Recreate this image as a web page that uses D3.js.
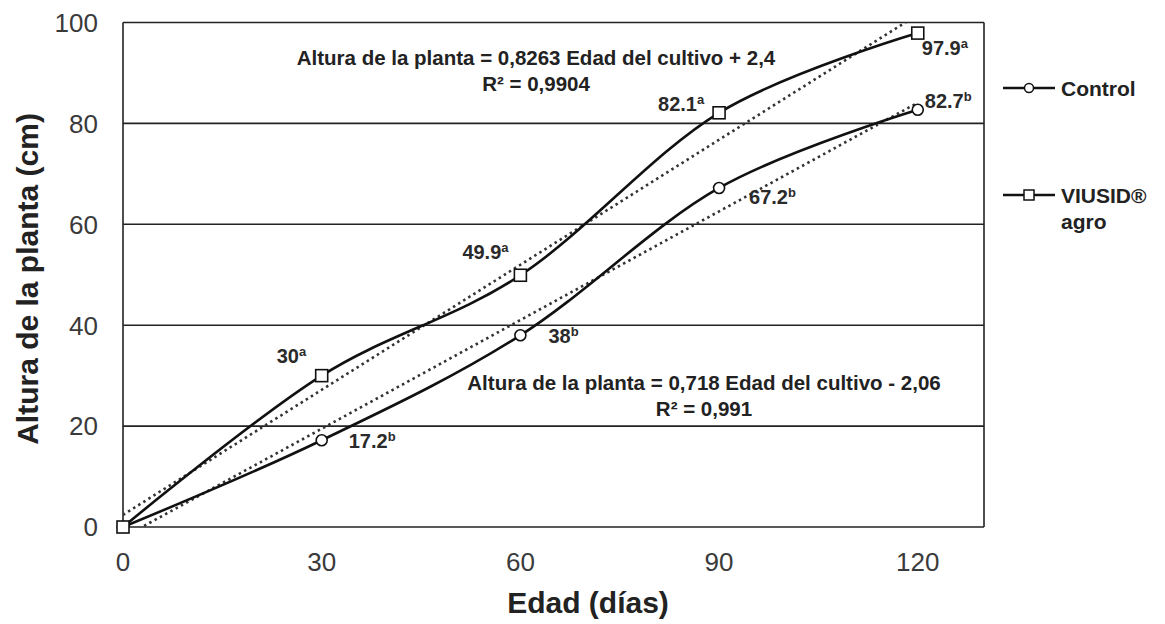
<!DOCTYPE html>
<html>
<head>
<meta charset="utf-8">
<script src="https://cdn.jsdelivr.net/npm/d3@7"></script>
<style>
  body { margin: 0; background: #fff; }
  svg { font-family: "Liberation Sans", Arial, sans-serif; }
</style>
</head>
<body>
<svg id="chart" width="1165" height="624"></svg>
<script>
// days of crop age
var days = [0, 30, 60, 90, 120];
var xTicks = [0, 30, 60, 90, 120];
var yTicks = [0, 20, 40, 60, 80, 100];

// plant height (cm)
var control = [0, 17.2, 38, 67.2, 82.7];
var viusid = [0, 30, 49.9, 82.1, 97.9];

// significance letters
var controlSig = ["", "b", "b", "b", "b"];
var viusidSig = ["", "a", "a", "a", "a"];

// linear trend: slope, intercept
var viusidTrend = [0.8263, 2.4];
var controlTrend = [0.718, -2.06];

var svg = d3.select("#chart"),
    margin = {top: 22.5, right: 181, bottom: 97, left: 123},
    width = +svg.attr("width") - margin.left - margin.right,
    height = +svg.attr("height") - margin.top - margin.bottom;

var x = d3.scaleLinear()
    .domain([0, 130])
    .range([0, width]);

var y = d3.scaleLinear()
    .domain([0, 100])
    .range([height, 0]);

svg.append("clipPath")
    .attr("id", "plot-clip")
  .append("rect")
    .attr("width", width)
    .attr("height", height);

var g = svg.append("g")
    .attr("transform", "translate(" + margin.left + "," + margin.top + ")");

// grid lines
g.selectAll("line.grid")
  .data(yTicks)
  .enter().append("line")
    .attr("class", "grid")
    .attr("x1", 0)
    .attr("x2", width)
    .attr("y1", function(d) { return y(d); })
    .attr("y2", function(d) { return y(d); })
    .attr("stroke", "#222")
    .attr("stroke-width", 1.6);

// left + right borders
g.append("line")
    .attr("x1", 0).attr("x2", 0)
    .attr("y1", 0).attr("y2", height)
    .attr("stroke", "#222").attr("stroke-width", 1.6);
g.append("line")
    .attr("x1", width).attr("x2", width)
    .attr("y1", 0).attr("y2", height)
    .attr("stroke", "#222").attr("stroke-width", 1.6);

// tick labels
g.selectAll("text.ytick")
  .data(yTicks)
  .enter().append("text")
    .attr("class", "ytick")
    .attr("x", -25)
    .attr("y", function(d) { return y(d); })
    .attr("dy", "0.36em")
    .attr("text-anchor", "end")
    .attr("font-size", 26)
    .attr("fill", "#3a3a3a")
    .text(function(d) { return d; });

g.selectAll("text.xtick")
  .data(xTicks)
  .enter().append("text")
    .attr("class", "xtick")
    .attr("x", function(d) { return x(d); })
    .attr("y", height + 44)
    .attr("text-anchor", "middle")
    .attr("font-size", 26)
    .attr("fill", "#3a3a3a")
    .text(function(d) { return d; });

// axis titles
svg.append("text")
    .attr("x", 588)
    .attr("y", 613)
    .attr("text-anchor", "middle")
    .attr("font-size", 30)
    .attr("font-weight", "bold")
    .attr("fill", "#222")
    .text("Edad (días)");

svg.append("text")
    .attr("transform", "translate(38," + 279 + ") rotate(-90)")
    .attr("text-anchor", "middle")
    .attr("font-size", 30)
    .attr("font-weight", "bold")
    .attr("fill", "#222")
    .text("Altura de la planta (cm)");

// trend lines (dotted)
function trend(coef) {
  return [0, 120].map(function(d) { return [d, coef[0] * d + coef[1]]; });
}
var straight = d3.line()
    .x(function(d) { return x(d[0]); })
    .y(function(d) { return y(d[1]); });

var trends = g.append("g").attr("clip-path", "url(#plot-clip)");
[viusidTrend, controlTrend].forEach(function(c) {
  trends.append("path")
      .attr("d", straight(trend(c)))
      .attr("fill", "none")
      .attr("stroke", "#333")
      .attr("stroke-width", 2.6)
      .attr("stroke-dasharray", "2.5,3.5");
});

// smoothed series
var smooth = d3.line()
    .curve(d3.curveCatmullRom.alpha(0))
    .x(function(d, i) { return x(days[i]); })
    .y(function(d) { return y(d); });

[control, viusid].forEach(function(s) {
  g.append("path")
      .attr("d", smooth(s))
      .attr("fill", "none")
      .attr("stroke", "#111")
      .attr("stroke-width", 2.6);
});

// markers
g.selectAll("circle.ctrl")
  .data(control)
  .enter().append("circle")
    .attr("class", "ctrl")
    .attr("cx", function(d, i) { return x(days[i]); })
    .attr("cy", function(d) { return y(d); })
    .attr("r", 5.5)
    .attr("fill", "#fff")
    .attr("stroke", "#111")
    .attr("stroke-width", 1.6);

g.selectAll("rect.vius")
  .data(viusid)
  .enter().append("rect")
    .attr("class", "vius")
    .attr("x", function(d, i) { return x(days[i]) - 6; })
    .attr("y", function(d) { return y(d) - 6; })
    .attr("width", 12)
    .attr("height", 12)
    .attr("fill", "#fff")
    .attr("stroke", "#111")
    .attr("stroke-width", 1.6);

// data labels: offsets relative to the point
var viusidOff = [null, [-45, -13], [-58, -16], [-61, -2], [4, 22]];
var controlOff = [null, [27, 8], [28, 8], [30, 16], [7, -2]];

function label(vals, sig, off) {
  vals.forEach(function(v, i) {
    if (!off[i]) return;
    var t = g.append("text")
        .attr("x", x(days[i]) + off[i][0])
        .attr("y", y(v) + off[i][1])
        .attr("font-size", 20)
        .attr("font-weight", "bold")
        .attr("fill", "#2a2a2a");
    t.append("tspan").text(v);
    t.append("tspan")
        .attr("font-size", 13)
        .attr("dy", -7)
        .text(sig[i]);
  });
}
label(viusid, viusidSig, viusidOff);
label(control, controlSig, controlOff);

// equations
function equation(cx, cy, coef, r2) {
  var sign = coef[1] < 0 ? " - " : " + ";
  var num = function(n) { return String(Math.abs(n)).replace(".", ","); };
  g.append("text")
      .attr("x", cx)
      .attr("y", cy)
      .attr("text-anchor", "middle")
      .attr("font-size", 20.5)
      .attr("font-weight", "bold")
      .attr("fill", "#222")
      .text("Altura de la planta = " + num(coef[0]) + " Edad del cultivo" + sign + num(coef[1]));
  g.append("text")
      .attr("x", cx)
      .attr("y", cy + 26)
      .attr("text-anchor", "middle")
      .attr("font-size", 20.5)
      .attr("font-weight", "bold")
      .attr("fill", "#222")
      .text("R² = " + r2);
}
equation(413, 42, viusidTrend, "0,9904");
equation(581, 367, controlTrend, "0,991");

// legend
var legend = svg.append("g")
    .attr("transform", "translate(1003,0)");

var items = [
  {name: ["Control"], y: 88, shape: "circle"},
  {name: ["VIUSID®", "agro"], y: 195, shape: "rect"}
];

items.forEach(function(it) {
  legend.append("line")
      .attr("x1", 0).attr("x2", 52)
      .attr("y1", it.y).attr("y2", it.y)
      .attr("stroke", "#111").attr("stroke-width", 2.6);
  if (it.shape == "circle") {
    legend.append("circle")
        .attr("cx", 26).attr("cy", it.y).attr("r", 4.5)
        .attr("fill", "#fff").attr("stroke", "#111").attr("stroke-width", 1.5);
  } else {
    legend.append("rect")
        .attr("x", 21).attr("y", it.y - 5).attr("width", 10).attr("height", 10)
        .attr("fill", "#fff").attr("stroke", "#111").attr("stroke-width", 1.5);
  }
  it.name.forEach(function(n, j) {
    legend.append("text")
        .attr("x", 58)
        .attr("y", it.y + 8 + j * 26)
        .attr("font-size", 21)
        .attr("font-weight", "bold")
        .attr("fill", "#222")
        .text(n);
  });
});
</script>
</body>
</html>
